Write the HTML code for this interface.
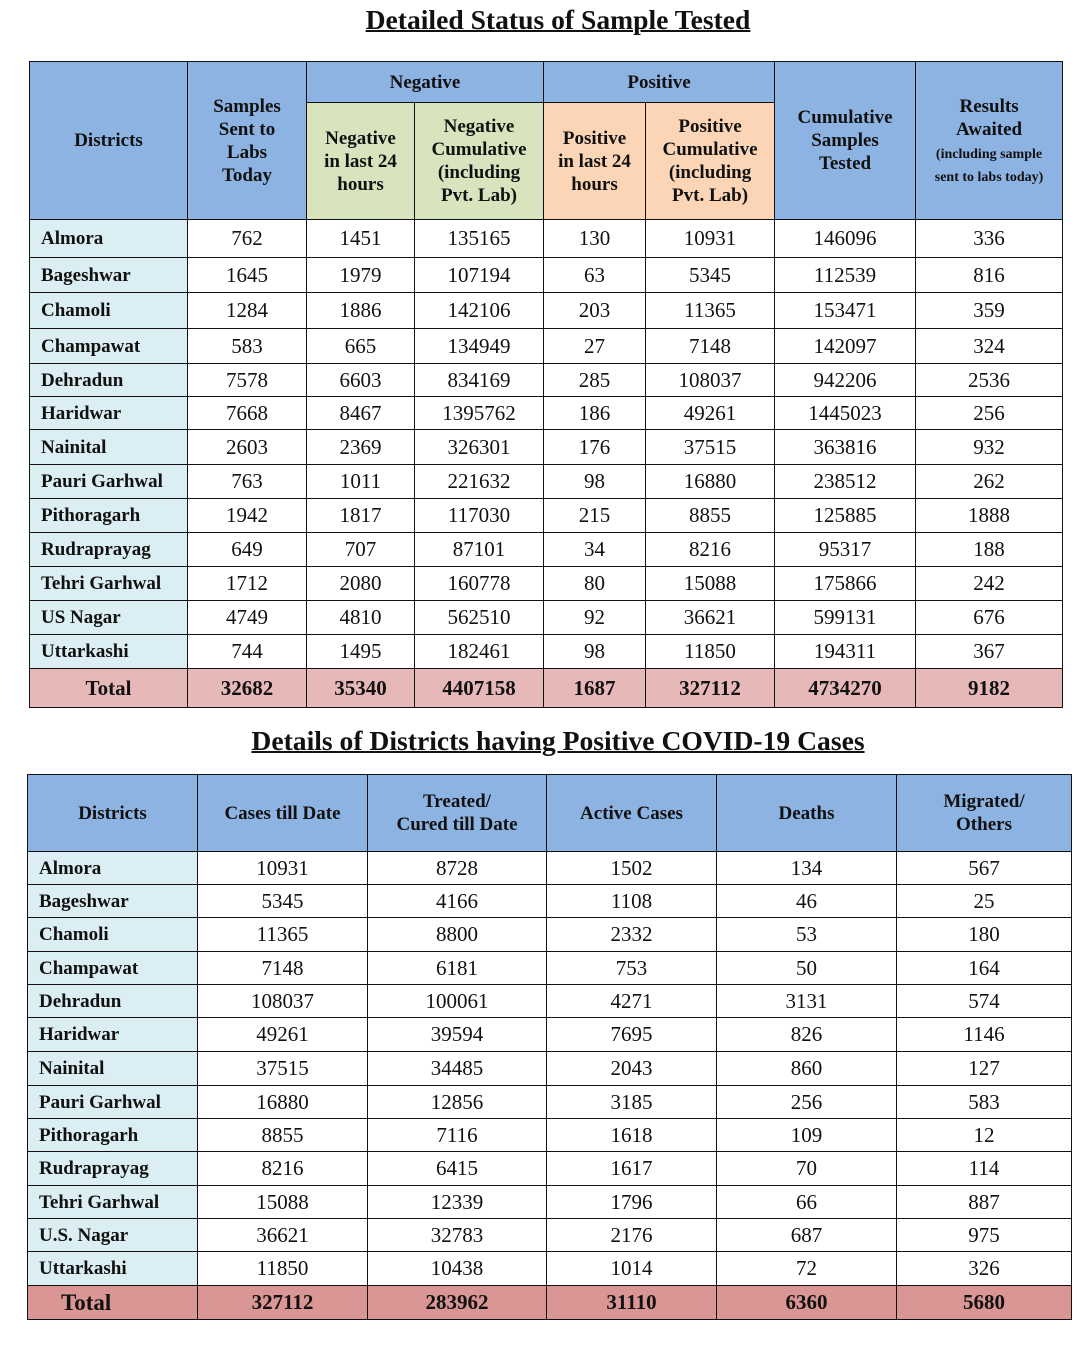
<!DOCTYPE html>
<html><head><meta charset="utf-8">
<style>
html,body{margin:0;padding:0;background:#fff;width:1080px;height:1351px;overflow:hidden;font-family:"Liberation Serif",serif;color:#111;}
.title{position:absolute;left:0;width:1116px;text-align:center;font-weight:bold;font-size:27.6px;text-decoration:underline;text-decoration-thickness:2px;}
table{position:absolute;border-collapse:collapse;table-layout:fixed;}
td,th{border:1.5px solid #111;text-align:center;padding:0;font-size:21px;line-height:1;}
th{background:#8db3e2;font-weight:bold;font-size:19px;line-height:23px;}
th.g{background:#d7e4bd;}
th.o{background:#fbd5b5;}
td.d{background:#dbeef3;font-weight:bold;font-size:19px;text-align:left;padding-left:11px;}
tr.tot td{background:#e6b9b8;font-weight:bold;font-size:21px;}
#t2 tr.tot td{background:#da9694;}
#t2 tr.tot td.d{text-align:left;padding-left:33px;font-size:23px;}
#t1 tr.tot td.d{text-align:center;padding-left:0;}
small{font-size:14px;line-height:17px;}
</style></head><body>
<div class="title" style="top:4px">Detailed Status of Sample Tested</div>
<table id="t1" style="left:29px;top:61px;width:1033px">
<colgroup><col style="width:158px"><col style="width:119px"><col style="width:108px"><col style="width:129px"><col style="width:102px"><col style="width:129px"><col style="width:141px"><col style="width:147px"></colgroup>
<tr style="height:41px"><th rowspan="2">Districts</th><th rowspan="2">Samples<br>Sent to<br>Labs<br>Today</th><th colspan="2">Negative</th><th colspan="2">Positive</th><th rowspan="2">Cumulative<br>Samples<br>Tested</th><th rowspan="2">Results<br>Awaited<br><small>(including sample<br>sent to labs today)</small></th></tr>
<tr style="height:117px"><th class="g">Negative<br>in last 24<br>hours</th><th class="g">Negative<br>Cumulative<br>(including<br>Pvt. Lab)</th><th class="o">Positive<br>in last 24<br>hours</th><th class="o">Positive<br>Cumulative<br>(including<br>Pvt. Lab)</th></tr>
</table>
<div class="title" style="top:725px">Details of Districts having Positive COVID-19 Cases</div>
<table id="t2" style="left:27px;top:774px;width:1044px">
<colgroup><col style="width:170px"><col style="width:170px"><col style="width:179px"><col style="width:170px"><col style="width:180px"><col style="width:175px"></colgroup>
<tr style="height:77px"><th>Districts</th><th>Cases till Date</th><th>Treated/<br>Cured till Date</th><th>Active Cases</th><th>Deaths</th><th>Migrated/<br>Others</th></tr>
</table>
<script>
const districts1=["Almora","Bageshwar","Chamoli","Champawat","Dehradun","Haridwar","Nainital","Pauri Garhwal","Pithoragarh","Rudraprayag","Tehri Garhwal","US Nagar","Uttarkashi","Total"];
const samplesSent=[762,1645,1284,583,7578,7668,2603,763,1942,649,1712,4749,744,32682];
const neg24=[1451,1979,1886,665,6603,8467,2369,1011,1817,707,2080,4810,1495,35340];
const negCum=[135165,107194,142106,134949,834169,1395762,326301,221632,117030,87101,160778,562510,182461,4407158];
const pos24=[130,63,203,27,285,186,176,98,215,34,80,92,98,1687];
const posCum=[10931,5345,11365,7148,108037,49261,37515,16880,8855,8216,15088,36621,11850,327112];
const cumTested=[146096,112539,153471,142097,942206,1445023,363816,238512,125885,95317,175866,599131,194311,4734270];
const awaited=[336,816,359,324,2536,256,932,262,1888,188,242,676,367,9182];
const h1=[38,35,36,35,33,33,35,34,34,34,34,34,34,39];

const districts2=["Almora","Bageshwar","Chamoli","Champawat","Dehradun","Haridwar","Nainital","Pauri Garhwal","Pithoragarh","Rudraprayag","Tehri Garhwal","U.S. Nagar","Uttarkashi","Total"];
const cases=[10931,5345,11365,7148,108037,49261,37515,16880,8855,8216,15088,36621,11850,327112];
const cured=[8728,4166,8800,6181,100061,39594,34485,12856,7116,6415,12339,32783,10438,283962];
const active=[1502,1108,2332,753,4271,7695,2043,3185,1618,1617,1796,2176,1014,31110];
const deaths=[134,46,53,50,3131,826,860,256,109,70,66,687,72,6360];
const migrated=[567,25,180,164,574,1146,127,583,12,114,887,975,326,5680];
const h2=[33,33,34,33,33,34,34,33,33,34,33,33,34,34];

function build(id,names,cols,heights){
  const t=document.getElementById(id);
  names.forEach((n,i)=>{
    const tr=document.createElement('tr');
    tr.style.height=heights[i]+'px';
    if(i===names.length-1)tr.className='tot';
    
    
    const d=document.createElement('td');
    d.className='d';d.textContent=n;
    
    
    tr.appendChild(d);
    cols.forEach(c=>{
      const td=document.createElement('td');
      td.textContent=c[i];
      
      
      tr.appendChild(td);
    });
    t.appendChild(tr);
  });
}
build('t1',districts1,[samplesSent,neg24,negCum,pos24,posCum,cumTested,awaited],h1);
build('t2',districts2,[cases,cured,active,deaths,migrated],h2);
</script>
</body></html>
